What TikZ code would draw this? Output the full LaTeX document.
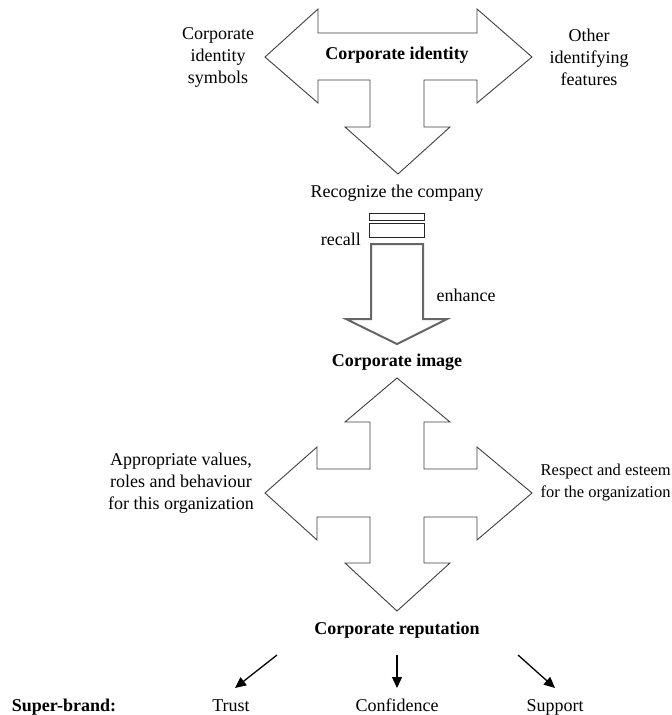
\documentclass[tikz,border=0pt]{standalone}
\usepackage{fontspec}
\setmainfont{Liberation Serif}
\usetikzlibrary{arrows.meta}
\begin{document}
\begin{tikzpicture}[x=1pt,y=-1pt,
  shapeline/.style={draw=black!75,line width=0.9pt,line join=miter,fill=white},
  thickshape/.style={draw=black!60,line width=2pt,line join=miter,fill=white},
  lbl/.style={inner sep=0pt,align=center,font=\fontsize{18}{22}\selectfont},
  blbl/.style={lbl,font=\fontsize{18}{22}\selectfont\bfseries},
  conn/.style={draw=black,line width=1.3pt,-{Triangle[length=11pt,width=10pt]}}]
\useasboundingbox (0,0) rectangle (672,715);
\fill[white] (0,0) rectangle (672,715);
% top T-shaped arrow
\draw[shapeline] (265,57) -- (318,9) -- (318,33) -- (477,33) -- (477,9) -- (532,57)
  -- (477,103) -- (477,80) -- (424,80) -- (424,127) -- (450,127) -- (398,174)
  -- (345,127) -- (370,127) -- (370,80) -- (318,80) -- (318,103) -- cycle;
\node[blbl] (ci) at (397,55) {Corporate identity};
\node[lbl] (cis) at (218,57) {Corporate\\identity\\symbols};
\node[lbl] (oif) at (589,57) {Other\\identifying\\features};
\node[lbl] (rec) at (397,193) {Recognize the company};
% small bars
\draw[black!85,line width=1pt] (369,213) rectangle (424,220);
\draw[black!85,line width=1pt] (369,223) rectangle (424,237);
% enhance arrow
\draw[thickshape] (371,244) -- (423,244) -- (423,319) -- (447,319) -- (397,344)
  -- (346,319) -- (371,319) -- cycle;
\node[lbl,anchor=east] (recall) at (361,239) {recall};
\node[lbl] (enh) at (466,295) {enhance};
\node[blbl] (cim) at (397,362) {Corporate image};
% cross
\draw[shapeline] (397,378) -- (450,422) -- (424,422) -- (424,469) -- (477,469) -- (477,447)
  -- (532,493) -- (477,540) -- (477,517) -- (424,517) -- (424,563) -- (450,563)
  -- (397,611) -- (345,563) -- (370,563) -- (370,517) -- (317,517) -- (317,540)
  -- (265,493) -- (317,447) -- (317,469) -- (370,469) -- (370,422) -- (345,422) -- cycle;
\node[lbl] (apv) at (181,483) {Appropriate values,\\roles and behaviour\\for this organization};
\node[lbl,align=left,anchor=east,font=\fontsize{16.5}{22}\selectfont] (rae) at (671,483) {Respect and esteem\\for the organization};
\node[blbl] (crep) at (397,630) {Corporate reputation};
% bottom
\node[blbl,anchor=base] (sb) at (64,711) {Super-brand:};
\node[lbl,anchor=base] (trust) at (231,711) {Trust};
\node[lbl,anchor=base] (conf) at (397,711) {Confidence};
\node[lbl,anchor=base] (supp) at (555,711) {Support};
\coordinate (a1s) at (277,655); \coordinate (a1e) at (235,688);
\coordinate (a2s) at (397,655); \coordinate (a2e) at (397,688);
\coordinate (a3s) at (518,655); \coordinate (a3e) at (555,688);
\draw[conn] (a1s) -- (a1e);
\draw[conn] (a2s) -- (a2e);
\draw[conn] (a3s) -- (a3e);
\end{tikzpicture}
\end{document}
